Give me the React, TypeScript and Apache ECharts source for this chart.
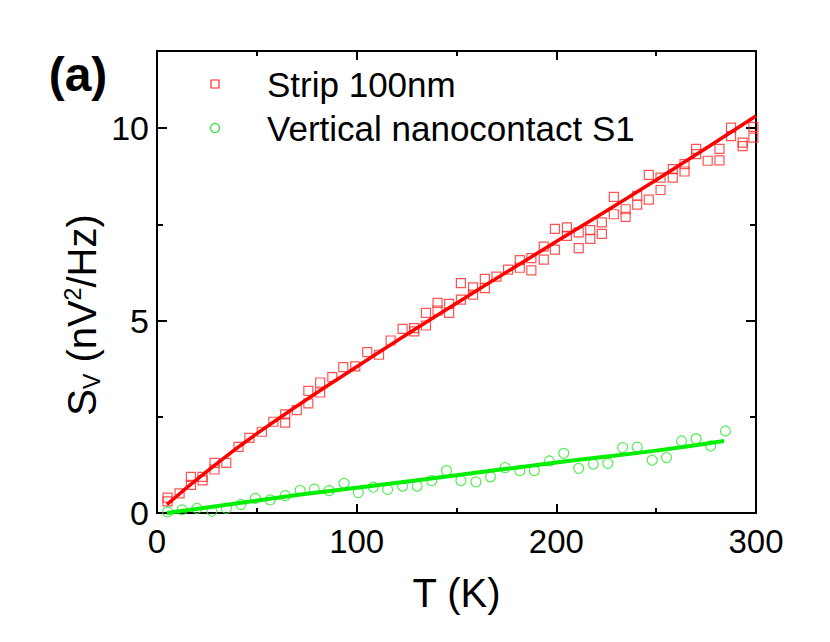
import React, { useEffect, useRef } from "react";
import * as echarts from "echarts";

const xTicks = [0, 100, 200, 300];
const yTicks = [0, 5, 10];

// Strip 100nm (T [K], S_V [nV^2/Hz])
const stripPoints: [number, number][] = [
  [5.3, 0.40], [5.3, 0.30], [11.3, 0.51], [17, 0.94], [17, 0.73], [22.8, 0.94], [22.8, 0.85],
  [28.8, 1.30], [28.8, 1.13], [34.7, 1.30], [40.8, 1.72], [46.3, 1.95], [52.5, 2.11], [58.3, 2.37],
  [64.2, 2.56], [64.2, 2.35], [70, 2.67], [75.8, 3.17], [75.8, 2.85], [81.7, 3.39], [81.7, 3.13],
  [87.8, 3.53], [93.3, 3.79], [99.3, 3.81], [105.3, 4.18], [111.2, 4.11], [117, 4.48], [123, 4.78],
  [128.8, 4.80], [128.8, 4.72], [134.7, 5.20], [134.7, 4.87], [140.5, 5.46], [140.5, 5.26],
  [146.3, 5.43], [146.3, 5.20], [152.2, 5.97], [152.2, 5.54], [158.3, 5.86], [158.3, 5.67],
  [164.2, 6.08], [164.2, 5.84], [170, 6.14], [175.8, 6.32], [181.7, 6.57], [181.7, 6.37],
  [187.5, 6.62], [187.5, 6.30], [193.7, 6.92], [193.7, 6.58], [199.3, 7.38], [199.3, 6.84],
  [205.3, 7.42], [205.3, 7.20], [211.2, 7.29], [211.2, 6.88], [217, 7.35], [217, 7.12],
  [222.8, 7.55], [222.8, 7.25], [228.8, 8.21], [228.8, 7.76], [234.7, 7.89], [234.7, 7.69],
  [240.5, 8.24], [240.5, 8.01], [246.3, 8.78], [246.3, 8.14], [252.2, 8.71], [252.2, 8.39],
  [258.3, 8.93], [258.3, 8.71], [264.2, 9.06], [264.2, 8.87], [270, 9.46], [270, 9.32],
  [275.8, 9.15], [281.7, 9.46], [281.7, 9.16], [287.5, 10.01], [287.5, 9.79], [293.3, 9.62],
  [293.3, 9.53], [298.7, 10.03], [298.7, 9.75],
];

// Vertical nanocontact S1
const nanoPoints: [number, number][] = [
  [5.3, 0.03], [12.5, 0.08], [20, 0.12], [27.5, 0.05], [34.7, 0.12], [42, 0.22], [49.3, 0.38],
  [56.7, 0.34], [64.2, 0.45], [71.7, 0.59], [78.8, 0.62], [86.2, 0.58], [93.7, 0.77], [100.8, 0.53],
  [108.3, 0.67], [115.5, 0.61], [123, 0.70], [130.3, 0.70], [137.6, 0.84], [145, 1.10], [152.2, 0.84],
  [159.7, 0.81], [167, 0.94], [174.3, 1.18], [181.7, 1.10], [189, 1.10], [196.5, 1.35], [203.7, 1.55],
  [211.2, 1.16], [218.5, 1.27], [225.8, 1.29], [233.2, 1.70], [240.5, 1.71], [248, 1.37],
  [255.2, 1.44], [262.7, 1.87], [270, 1.93], [277.3, 1.74], [284.7, 2.13],
];

const stripFit: [number, number][] = [
  [5, 0.22], [25, 1.08], [50, 2.06], [100, 3.8], [150, 5.45], [200, 7.05], [250, 8.65], [300, 10.31],
];
const nanoFit: [number, number][] = [
  [5, 0.0], [72, 0.48], [101, 0.66], [150, 0.98], [200, 1.31], [250, 1.62], [284, 1.87],
];

const seriesNames = ["Strip 100nm", "Vertical nanocontact S1"];

const FONT = "'Liberation Sans', Arial, sans-serif";

export default function App() {
  const ref = useRef<HTMLDivElement>(null);
  useEffect(() => {
    if (!ref.current) return;
    const chart = echarts.init(ref.current, undefined, { renderer: "svg" });
    const axisCommon = {
      axisLine: { show: true, onZero: false, lineStyle: { color: "#000", width: 2 } },
      axisTick: { show: true, inside: true, length: 9, lineStyle: { color: "#000", width: 2 } },
      minorTick: { show: true, splitNumber: 2, length: 5, lineStyle: { color: "#000", width: 2 } },
      splitLine: { show: false },
      minorSplitLine: { show: false },
    };
    const yLabel = (v: number) => (yTicks.indexOf(v) >= 0 ? String(v) : "");
    chart.setOption({
      animation: false,
      backgroundColor: "#fff",
      grid: { left: 157, right: 74, top: 51, bottom: 129, containLabel: false },
      xAxis: [
        {
          type: "value", min: xTicks[0], max: xTicks[xTicks.length - 1], interval: 100, position: "bottom",
          ...axisCommon,
          axisLabel: { show: true, fontSize: 33, color: "#000", fontFamily: FONT, margin: 12 },
          name: "T (K)", nameLocation: "middle", nameGap: 60,
          nameTextStyle: { fontSize: 40, color: "#000", fontFamily: FONT },
        },
        {
          type: "value", min: xTicks[0], max: xTicks[xTicks.length - 1], interval: 100, position: "top",
          ...axisCommon,
          axisLabel: { show: false },
        },
      ],
      yAxis: [
        {
          type: "value", min: 0, max: 12, interval: 5, position: "left",
          ...axisCommon,
          axisTick: { ...axisCommon.axisTick, length: 10 },
          minorTick: { ...axisCommon.minorTick, length: 6 },
          axisLabel: { show: true, fontSize: 34, color: "#000", fontFamily: FONT, margin: 8, showMaxLabel: false, formatter: yLabel },
        },
        {
          type: "value", min: 0, max: 12, interval: 5, position: "right",
          ...axisCommon,
          axisTick: { ...axisCommon.axisTick, length: 10 },
          minorTick: { ...axisCommon.minorTick, length: 6 },
          axisLabel: { show: false },
        },
      ],
      series: [
        {
          name: seriesNames[0], type: "scatter", data: stripPoints, symbol: "rect", symbolSize: 9,
          itemStyle: { color: "rgba(0,0,0,0)", borderColor: "#ff2828", borderWidth: 1.2 }, z: 2,
        },
        {
          name: seriesNames[1], type: "scatter", data: nanoPoints, symbol: "circle", symbolSize: 10,
          itemStyle: { color: "rgba(0,0,0,0)", borderColor: "#2ee82e", borderWidth: 1.2 }, z: 2,
        },
        {
          type: "line", data: stripFit, smooth: true, showSymbol: false, symbol: "none",
          lineStyle: { color: "#ff0000", width: 3.5 }, z: 3,
        },
        {
          type: "line", data: nanoFit, smooth: true, showSymbol: false, symbol: "none",
          lineStyle: { color: "#00ee00", width: 4 }, z: 3,
        },
      ],
      graphic: [
        { type: "rect", shape: { x: 211, y: 80, width: 8, height: 8 }, style: { fill: "none", stroke: "#ff2828", lineWidth: 1.2 } },
        { type: "circle", shape: { cx: 215, cy: 128, r: 4.5 }, style: { fill: "none", stroke: "#2ee82e", lineWidth: 1.2 } },
        {
          type: "text", x: 267, y: 84,
          style: { text: seriesNames[0], fontSize: 35, fontFamily: FONT, fill: "#000", verticalAlign: "middle", align: "left" },
        },
        {
          type: "text", x: 267, y: 128,
          style: { text: seriesNames[1], fontSize: 35, fontFamily: FONT, fill: "#000", verticalAlign: "middle", align: "left" },
        },
        {
          type: "text", x: 78, y: 74,
          style: { text: "(a)", fontSize: 48, fontWeight: "bold", fontFamily: FONT, fill: "#000", verticalAlign: "middle", align: "center" },
        },
        {
          type: "text", x: 82, y: 315, rotation: Math.PI / 2,
          style: {
            text: "{m|S}{sub|V}{m| (nV}{sup|2}{m|/Hz)}",
            align: "center", verticalAlign: "middle", fill: "#000", fontFamily: FONT,
            rich: {
              m: { fontSize: 40, fontFamily: FONT, fill: "#000", lineHeight: 50, verticalAlign: "middle" },
              sub: { fontSize: 23, fontFamily: FONT, fill: "#000", lineHeight: 50, verticalAlign: "bottom", padding: [0, 0, 4, 0] },
              sup: { fontSize: 23, fontFamily: FONT, fill: "#000", lineHeight: 50, verticalAlign: "top", padding: [4, 0, 0, 0] },
            },
          },
        },
      ],
    });
    return () => chart.dispose();
  }, []);
  return <div ref={ref} style={{ position: "absolute", left: 0, top: 0, width: 830, height: 642 }} />;
}
